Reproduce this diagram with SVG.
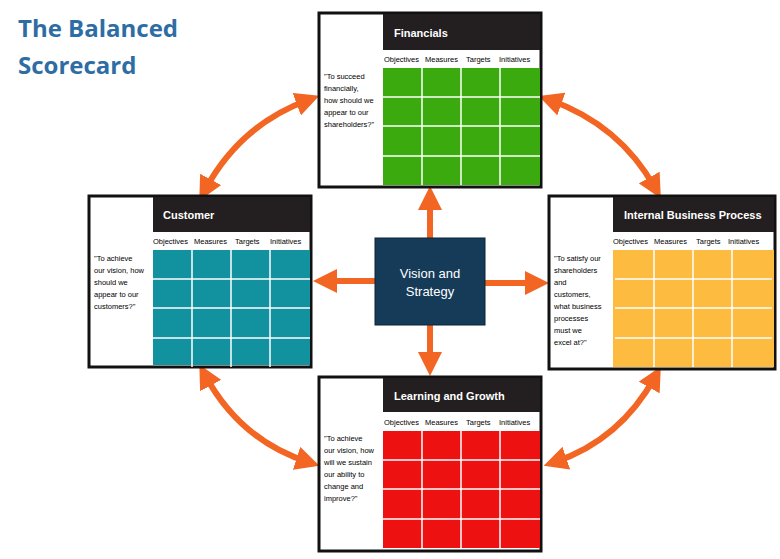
<svg xmlns="http://www.w3.org/2000/svg" width="780" height="559" viewBox="0 0 780 559">
<style>
.box{fill:#fff;stroke:#111;stroke-width:3}
.hdr{fill:#231f20}
.ht{font-family:"Liberation Sans",Arial,sans-serif;font-size:11px;font-weight:bold;fill:#fff}
.ch{font-family:"Liberation Sans",Arial,sans-serif;font-size:7.5px;fill:#000}
.q{font-family:"Liberation Sans",Arial,sans-serif;font-size:7.5px;fill:#000}
.gl{stroke:#fff;stroke-width:1.5}
.arr{stroke:#f26522;stroke-width:6;fill:none}
</style>
<defs>
<marker id="ah" markerWidth="4" markerHeight="4" refX="2" refY="2" orient="auto-start-reverse" markerUnits="strokeWidth">
<path d="M0,0 L4,2 L0,4 Z" fill="#f26522"/>
</marker>
<g id="grid">
<line class="gl" x1="39" y1="0" x2="39" y2="117"/><line class="gl" x1="78" y1="0" x2="78" y2="117"/><line class="gl" x1="117" y1="0" x2="117" y2="117"/>
<line class="gl" x1="0" y1="29" x2="157" y2="29"/><line class="gl" x1="0" y1="58" x2="157" y2="58"/><line class="gl" x1="0" y1="88" x2="157" y2="88"/>
</g>
</defs>
<text x="18" y="37" font-family="'Open Sans',sans-serif" font-size="24" font-weight="bold" fill="#2e6da4">The Balanced</text>
<text x="18" y="74" font-family="'Open Sans',sans-serif" font-size="24" font-weight="bold" fill="#2e6da4">Scorecard</text>

<g id="connectors">
<path class="arr" marker-start="url(#ah)" marker-end="url(#ah)" d="M205,190 Q240,125 308,100"/>
<path class="arr" marker-start="url(#ah)" marker-end="url(#ah)" d="M550,100 Q620,125 655,188"/>
<path class="arr" marker-start="url(#ah)" marker-end="url(#ah)" d="M205,375 Q240,440 308,462"/>
<path class="arr" marker-start="url(#ah)" marker-end="url(#ah)" d="M555,462 Q620,440 655,377"/>
<line class="arr" marker-end="url(#ah)" x1="430" y1="238" x2="430" y2="198"/>
<line class="arr" marker-end="url(#ah)" x1="430" y1="325" x2="430" y2="364"/>
<line class="arr" marker-end="url(#ah)" x1="375" y1="281" x2="325" y2="281"/>
<line class="arr" marker-end="url(#ah)" x1="485" y1="283" x2="537" y2="283"/>
</g>

<g id="financials">
<rect class="box" x="319" y="13" width="222" height="174"/>
<rect class="hdr" x="383" y="14" width="157" height="36"/>
<text class="ht" x="394" y="37">Financials</text>
<text class="ch" x="384" y="62">Objectives</text><text class="ch" x="425" y="62">Measures</text><text class="ch" x="466" y="62">Targets</text><text class="ch" x="499" y="62">Initiatives</text>
<rect x="383" y="68" width="157" height="117" fill="#3aaa0f"/>
<use href="#grid" x="383" y="68"/>
<text class="q" x="324" y="79">"To succeed</text><text class="q" x="324" y="91">financially,</text><text class="q" x="324" y="103">how should we</text><text class="q" x="324" y="115">appear to our</text><text class="q" x="324" y="127">shareholders?"</text>
</g>

<g id="customer">
<rect class="box" x="89" y="196" width="222" height="171"/>
<rect class="hdr" x="153" y="197" width="157" height="35"/>
<text class="ht" x="163" y="219">Customer</text>
<text class="ch" x="153" y="244">Objectives</text><text class="ch" x="194" y="244">Measures</text><text class="ch" x="235" y="244">Targets</text><text class="ch" x="270" y="244">Initiatives</text>
<rect x="153" y="250" width="157" height="115" fill="#12919f"/>
<use href="#grid" x="153" y="250"/>
<text class="q" x="94" y="261">"To achieve</text><text class="q" x="94" y="273">our vision, how</text><text class="q" x="94" y="285">should we</text><text class="q" x="94" y="297">appear to our</text><text class="q" x="94" y="309">customers?"</text>
</g>

<g id="internal">
<rect class="box" x="549" y="196" width="226" height="173"/>
<rect class="hdr" x="613" y="197" width="161" height="35"/>
<text class="ht" x="624" y="219">Internal Business Process</text>
<text class="ch" x="613" y="244">Objectives</text><text class="ch" x="654" y="244">Measures</text><text class="ch" x="696" y="244">Targets</text><text class="ch" x="728" y="244">Initiatives</text>
<rect x="613" y="250" width="161" height="117" fill="#fdbb40"/>
<use href="#grid" x="615" y="250"/>
<text class="q" x="554" y="261">"To satisfy our</text><text class="q" x="554" y="273">shareholders</text><text class="q" x="554" y="285">and</text><text class="q" x="554" y="297">customers,</text><text class="q" x="554" y="309">what business</text><text class="q" x="554" y="321">processes</text><text class="q" x="554" y="333">must we</text><text class="q" x="554" y="345">excel at?"</text>
</g>

<g id="learning">
<rect class="box" x="319" y="377" width="222" height="174"/>
<rect class="hdr" x="383" y="378" width="157" height="34"/>
<text class="ht" x="394" y="400">Learning and Growth</text>
<text class="ch" x="384" y="425">Objectives</text><text class="ch" x="425" y="425">Measures</text><text class="ch" x="466" y="425">Targets</text><text class="ch" x="499" y="425">Initiatives</text>
<rect x="383" y="431" width="157" height="117" fill="#ee1111"/>
<use href="#grid" x="383" y="431"/>
<text class="q" x="324" y="441">"To achieve</text><text class="q" x="324" y="453">our vision, how</text><text class="q" x="324" y="465">will we sustain</text><text class="q" x="324" y="477">our ability to</text><text class="q" x="324" y="489">change and</text><text class="q" x="324" y="501">improve?"</text>
</g>

<g id="vision">
<rect x="375" y="238" width="110" height="87" fill="#153b58" stroke="#0c2436" stroke-width="1"/>
<text x="430" y="278" text-anchor="middle" font-family="'Liberation Sans',Arial,sans-serif" font-size="13" fill="#fff">Vision and</text>
<text x="430" y="296" text-anchor="middle" font-family="'Liberation Sans',Arial,sans-serif" font-size="13" fill="#fff">Strategy</text>
</g>
</svg>
